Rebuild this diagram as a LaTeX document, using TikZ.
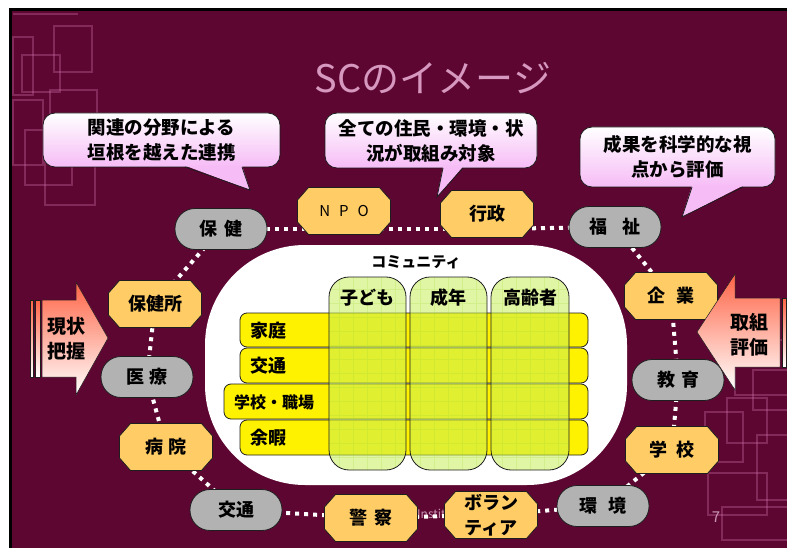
\documentclass[tikz,border=0pt]{standalone}
\usepackage{fontspec}
\newfontfamily\jp{Noto Sans CJK JP}
\usetikzlibrary{backgrounds}
\definecolor{slidebg}{RGB}{94,6,50}
\definecolor{nodegray}{RGB}{178,178,178}
\definecolor{nodeorange}{RGB}{255,204,102}
\definecolor{callpink}{RGB}{246,188,246}
\definecolor{titlepink}{RGB}{214,152,190}
\definecolor{numpink}{RGB}{200,150,180}
\definecolor{decopink}{RGB}{205,110,165}
\definecolor{colgreen}{RGB}{200,240,90}
\definecolor{gridgreen}{RGB}{160,215,50}
\definecolor{arrowred}{RGB}{255,100,70}
\definecolor{edge}{RGB}{30,30,30}
\pgfdeclarelayer{bgzero}
\pgfsetlayers{bgzero,background,main}
% octagon node: [node options]{name}{x}{y}{text}
\newcommand\octbox[5][]{%
  \draw[octfill] ({#3-35.5},{#4-23.5}) -- ({#3+35.5},{#4-23.5}) -- ({#3+46.5},{#4-11}) --
    ({#3+46.5},{#4+11}) -- ({#3+35.5},{#4+23.5}) -- ({#3-35.5},{#4+23.5}) --
    ({#3-46.5},{#4+11}) -- ({#3-46.5},{#4-11}) -- cycle;
  \node[orangenode,#1] (#2) at (#3,#4) {#5};}
\begin{document}
\begin{tikzpicture}[x=1pt,y=-1pt,
  graynode/.style={draw=edge, line width=0.8pt, fill=nodegray, rounded corners=20pt,
    minimum width=92pt, minimum height=41pt, inner sep=0pt,
    font=\jp\bfseries\fontsize{18}{20}\selectfont},
  octfill/.style={draw=edge, line width=0.8pt, fill=nodeorange},
  orangenode/.style={rectangle, minimum width=93pt, minimum height=47pt, inner sep=0pt,
    align=center, font=\jp\bfseries\fontsize{18}{25}\selectfont},
  dots/.style={draw=white, line width=4pt, dash pattern=on 4pt off 5pt},
  callbox/.style={draw=edge, line width=0.8pt, rounded corners=12pt, top color=white,
    bottom color=callpink, align=center, inner sep=0pt,
    font=\jp\bfseries\fontsize{18.5}{25}\selectfont},
  tailfill/.style={fill=callpink},
  tailedge/.style={draw=edge, line width=0.8pt},
  deco/.style={draw=decopink, line width=2.5pt, draw opacity=0.35},
  rowbox/.style={draw=edge, line width=0.8pt, fill=yellow, rounded corners=7pt, inner sep=0pt},
  colbox/.style={draw=edge, line width=0.8pt, fill=colgreen, fill opacity=0.55,
    rounded corners=20pt, inner sep=0pt,
    path picture={\draw[gridgreen, line width=0.5pt, draw opacity=0.22, step=14pt]
      (path picture bounding box.south west) grid (path picture bounding box.north east);}},
  rowlab/.style={anchor=west, inner sep=0pt, font=\jp\bfseries\fontsize{18}{20}\selectfont},
  collab/.style={inner sep=0pt, font=\jp\bfseries\fontsize{18}{20}\selectfont},
  arrowlab/.style={align=center, inner sep=0pt, font=\jp\bfseries\fontsize{19}{25}\selectfont},
  arrowshape/.style={top color=arrowred, bottom color=white, draw=edge, line width=0.5pt}
]
\useasboundingbox (0,0) rectangle (787,548);

% ---------- slide background ----------
\begin{pgfonlayer}{bgzero}
\fill[white] (0,0) rectangle (787,548);
\fill[black] (9,8) rectangle (787,548);
\fill[slidebg] (12,11) rectangle (787,548);
% top-left pattern
\draw[deco] (13,14) -- (78,14);
\draw[deco] (54,26) rectangle (92,72);
\draw[deco] (13,37) rectangle (33,95);
\draw[deco] (22,55) rectangle (60,92);
\draw[deco] (50,90) rectangle (97,150);
\draw[deco] (13,100) rectangle (43,165);
\draw[deco] (25,130) rectangle (72,185);
\draw[deco] (45,160) rectangle (95,205);
% bottom-right pattern
\draw[deco] (705,412) rectangle (743,462);
\draw[deco] (727,398) rectangle (767,443);
\draw[deco] (708,473) rectangle (767,515);
\draw[deco] (757,435) rectangle (800,500);
\draw[deco] (722,507) rectangle (800,540);
\draw[deco] (753,370) rectangle (800,410);
\draw[deco] (735,340) rectangle (790,395);
\node[anchor=west, inner sep=0pt, font=\jp\fontsize{12}{12}\selectfont, text=numpink]
  (inst) at (417,514) {Institute};
\end{pgfonlayer}

% ---------- title ----------
\node[inner sep=0pt, font=\jp\fontsize{38}{40}\selectfont, text=titlepink] (title) at (433,78) {SCのイメージ};
\node[inner sep=0pt, font=\jp\fontsize{15}{15}\selectfont, text=numpink] (pnum) at (716,517) {7};

% ---------- callouts ----------
\node[callbox, minimum width=237pt, minimum height=54pt] (call1) at (161.5,140)
  {関連の分野による\\垣根を越えた連携};
\fill[tailfill] (185,165.6) -- (250,190) -- (242,165.6) -- cycle;
\draw[tailedge] (185,167) -- (250,190) -- (242,167);

\node[callbox, minimum width=212pt, minimum height=55pt] (call2) at (431,140.5)
  {全ての住民・環境・状\\況が取組み対象};
\fill[tailfill] (443,166.6) -- (437,197) -- (463,166.6) -- cycle;
\draw[tailedge] (443,168) -- (437,197) -- (463,168);

\node[callbox, minimum width=195pt, minimum height=60pt] (call3) at (677.5,157)
  {成果を科学的な視\\点から評価};
\fill[tailfill] (692,185.6) -- (682,217) -- (743,185.6) -- cycle;
\draw[tailedge] (692,187) -- (682,217) -- (743,187);

% ---------- community ----------
\node[fill=white, rounded corners=100pt, minimum width=422pt, minimum height=240pt, inner sep=0pt]
  (comm) at (416,365) {};
\node[inner sep=0pt, font=\jp\bfseries\fontsize{15}{16}\selectfont] (commlab) at (416,262) {コミュニティ};

\node[rowbox, minimum width=348pt, minimum height=34pt] (r1) at (414,330) {};
\node[rowbox, minimum width=348pt, minimum height=35pt] (r2) at (414,365.5) {};
\node[rowbox, minimum width=364pt, minimum height=35pt] (r3) at (406,401.5) {};
\node[rowbox, minimum width=348pt, minimum height=35pt] (r4) at (414,437.5) {};

\node[colbox, minimum width=77pt, minimum height=193pt] (c1) at (367.5,373.5) {};
\node[colbox, minimum width=77pt, minimum height=193pt] (c2) at (448.5,373.5) {};
\node[colbox, minimum width=78pt, minimum height=193pt] (c3) at (530,373.5) {};

\node[collab] (c1lab) at (367.5,298) {子ども};
\node[collab] (c2lab) at (448.5,298) {成年};
\node[collab] (c3lab) at (530,298) {高齢者};

\node[rowlab] (r1lab) at (250,331) {家庭};
\node[rowlab] (r2lab) at (250,366) {交通};
\node[rowlab, font=\jp\bfseries\fontsize{16}{18}\selectfont] (r3lab) at (234,402) {学校・職場};
\node[rowlab] (r4lab) at (250,438) {余暇};

% ---------- ring of nodes ----------
\node[graynode] (hoken) at (221,229) {保\hspace{7pt}健};
\node[graynode] (fukushi) at (615,227) {福\hspace{15pt}祉};
\node[graynode] (iryo) at (147,377) {医\hspace{6pt}療};
\node[graynode] (kyoiku) at (678,380) {教\hspace{6pt}育};
\node[graynode] (kotsu) at (236,510) {交通};
\node[graynode] (kankyo) at (603,506) {環\hspace{12pt}境};

\octbox[font=\jp\fontsize{15}{16}\selectfont]{npo}{344}{211}{N\hspace{9pt}P\hspace{9pt}O}
\octbox{gyosei}{487}{214}{行政}
\octbox{hokenjo}{155}{304}{保健所}
\octbox{byoin}{166}{447}{病\hspace{5pt}院}
\octbox{kigyo}{671}{296}{企\hspace{12pt}業}
\octbox{gakko}{672}{450}{学\hspace{10pt}校}
\octbox{keisatsu}{371}{518}{警\hspace{7pt}察}
\octbox{volunteer}{491}{515}{ボラン\\ティア}

\begin{pgfonlayer}{background}
\draw[dots] (hoken.center) -- (npo.center |- hoken.center);
\draw[dots] (npo.center |- hoken.center) -- (gyosei.center |- hoken.center);
\draw[dots] (gyosei.center |- hoken.center) -- (fukushi.center);
\draw[dots] (fukushi.center) -- (kigyo.center);
\draw[dots] (kigyo.center) -- (kyoiku.center);
\draw[dots] (kyoiku.center) -- (gakko.center);
\draw[dots] (gakko.center) -- (kankyo.center);
\draw[dots] (kankyo.center) -- (volunteer.center);
\draw[dots] (volunteer.center) -- (keisatsu.center);
\draw[dots] (keisatsu.center) -- (kotsu.center);
\draw[dots] (kotsu.center) -- (byoin.center);
\draw[dots] (byoin.center) -- (iryo.center);
\draw[dots] (iryo.center) -- (hokenjo.center);
\draw[dots] (hokenjo.center) -- (hoken.center);
\end{pgfonlayer}

% ---------- side arrows ----------
\shade[arrowshape] (30,300) rectangle (33,377);
\shade[arrowshape] (35,300) rectangle (40,377);
\shade[arrowshape] (42,300) -- (76,300) -- (76,282) -- (108,338) -- (76,395) -- (76,377) -- (42,377) -- cycle;
\node[arrowlab] (genjo) at (66,339) {現状\\把握};

\shade[arrowshape] (735,298) -- (780,298) -- (780,367) -- (735,367) -- (735,390) -- (697,332) -- (735,274) -- cycle;
\shade[arrowshape] (782,298) rectangle (786,367);
\node[arrowlab] (torikumi) at (749,335) {取組\\評価};
\end{tikzpicture}
\end{document}
